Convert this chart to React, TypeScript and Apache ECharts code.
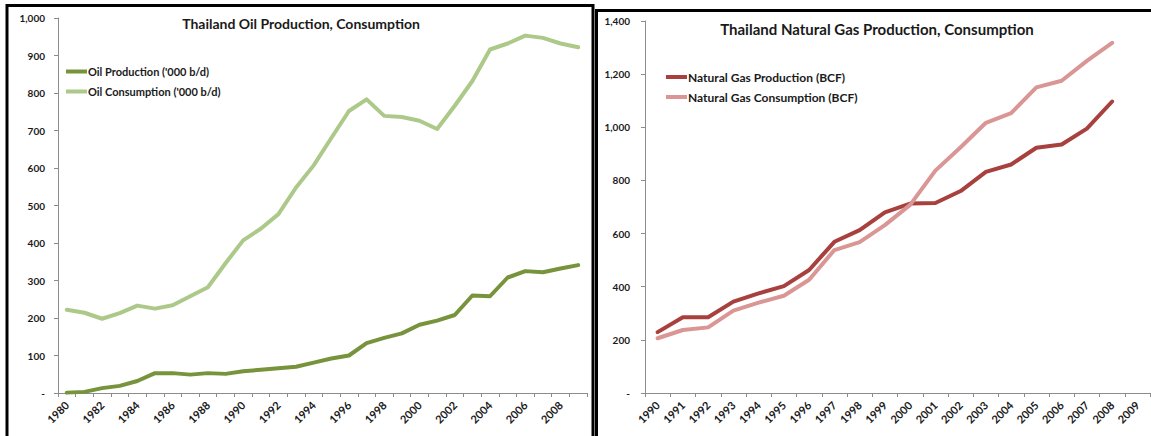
import React, { useEffect, useRef } from "react";
import * as echarts from "echarts";

const oilYears = ["1980","1981","1982","1983","1984","1985","1986","1987","1988","1989","1990","1991","1992","1993","1994","1995","1996","1997","1998","1999","2000","2001","2002","2003","2004","2005","2006","2007","2008","2009"];
const oilProduction = [1,3,13,19,32,53,53,49,53,51,58,62,66,70,81,92,100,133,147,159,182,193,208,260,258,308,325,322,332,341];
const oilConsumption = [222,214,198,213,233,225,234,258,282,346,407,438,477,548,607,680,752,783,739,736,726,704,766,832,916,932,953,947,932,922];

const gasYears = ["1990","1991","1992","1993","1994","1995","1996","1997","1998","1999","2000","2001","2002","2003","2004","2005","2006","2007","2008","2009"];
const gasProduction = [229,285,285,344,375,402,463,569,613,680,713,715,760,832,860,923,935,995,1097,null];
const gasConsumption = [206,237,247,310,340,366,426,538,568,632,708,837,925,1017,1053,1150,1175,1250,1318,null];

const oilTitle = "Thailand Oil Production, Consumption";
const gasTitle = "Thailand Natural Gas Production, Consumption";

const FONT = "Lato, 'Open Sans', sans-serif";

function fmt(v: number) {
  return v === 0 ? "-" : v.toLocaleString("en-US");
}

export default function App() {
  const ref = useRef<HTMLDivElement>(null);
  useEffect(() => {
    if (!ref.current) return;
    const chart = echarts.init(ref.current, null, { renderer: "svg" });
    const axisLine = { show: true, lineStyle: { color: "#8c8c8c", width: 1 } };
    const xLabel = { rotate: 45, fontSize: 11, fontWeight: "bold", color: "#1a1a1a", fontFamily: FONT, margin: 10 };
    const yLabel = { fontSize: 10, fontWeight: "bold", color: "#1a1a1a", fontFamily: FONT, formatter: fmt };
    chart.setOption({
      animation: false,
      backgroundColor: "#ffffff",
      title: [
        { text: oilTitle, left: 301, top: 16, textAlign: "center", padding: 0,
          textStyle: { fontSize: 14, fontWeight: "bold", color: "#1a1a1a", fontFamily: FONT } },
        { text: gasTitle, left: 877, top: 21, textAlign: "center", padding: 0,
          textStyle: { fontSize: 15, fontWeight: "bold", color: "#1a1a1a", fontFamily: FONT } },
      ],
      legend: [
        { orient: "vertical", left: 66, top: 66, itemWidth: 21, itemHeight: 4, itemGap: 9, icon: "rect", padding: 0,
          data: ["Oil Production ('000 b/d)", "Oil Consumption ('000 b/d)"],
          textStyle: { fontSize: 11, fontWeight: "bold", color: "#1a1a1a", fontFamily: FONT, padding: [0, 0, 0, -4] } },
        { orient: "vertical", left: 666, top: 71, itemWidth: 21, itemHeight: 4, itemGap: 8, icon: "rect", padding: 0,
          data: ["Natural Gas Production (BCF)", "Natural Gas Consumption (BCF)"],
          textStyle: { fontSize: 12, fontWeight: "bold", color: "#1a1a1a", fontFamily: FONT, padding: [0, 0, 0, -4] } },
      ],
      grid: [
        { left: 58, top: 18, width: 529, height: 375 },
        { left: 645, top: 21, width: 505, height: 372 },
      ],
      xAxis: [
        { type: "category", gridIndex: 0, data: oilYears, boundaryGap: true, axisLine,
          axisTick: { show: true, interval: 0, length: 4, lineStyle: { color: "#8c8c8c" } },
          axisLabel: { ...xLabel, interval: 1 }, splitLine: { show: false } },
        { type: "category", gridIndex: 1, data: gasYears, boundaryGap: true, axisLine,
          axisTick: { show: true, interval: 0, length: 4, lineStyle: { color: "#8c8c8c" } },
          axisLabel: { ...xLabel, interval: 0 }, splitLine: { show: false } },
      ],
      yAxis: [
        { type: "value", gridIndex: 0, min: 0, max: 1000, interval: 100, axisLine,
          axisTick: { show: true, length: 4, lineStyle: { color: "#8c8c8c" } },
          axisLabel: { ...yLabel, margin: 13 }, splitLine: { show: false } },
        { type: "value", gridIndex: 1, min: 0, max: 1400, interval: 200, axisLine,
          axisTick: { show: true, length: 4, lineStyle: { color: "#8c8c8c" } },
          axisLabel: { ...yLabel, margin: 15 }, splitLine: { show: false } },
      ],
      series: [
        { name: "Oil Production ('000 b/d)", type: "line", xAxisIndex: 0, yAxisIndex: 0, data: oilProduction,
          symbol: "none", color: "#77933c", lineStyle: { width: 4, color: "#77933c", cap: "round", join: "round" } },
        { name: "Oil Consumption ('000 b/d)", type: "line", xAxisIndex: 0, yAxisIndex: 0, data: oilConsumption,
          symbol: "none", color: "#adc98a", lineStyle: { width: 4, color: "#adc98a", cap: "round", join: "round" } },
        { name: "Natural Gas Production (BCF)", type: "line", xAxisIndex: 1, yAxisIndex: 1, data: gasProduction,
          symbol: "none", color: "#a8403e", lineStyle: { width: 4, color: "#a8403e", cap: "round", join: "round" } },
        { name: "Natural Gas Consumption (BCF)", type: "line", xAxisIndex: 1, yAxisIndex: 1, data: gasConsumption,
          symbol: "none", color: "#d99694", lineStyle: { width: 4, color: "#d99694", cap: "round", join: "round" } },
      ],
      graphic: [
        { type: "rect", silent: true, z: 100, shape: { x: 7, y: 5.5, width: 586, height: 500 },
          style: { fill: "none", stroke: "#000", lineWidth: 3 } },
        { type: "rect", silent: true, z: 100, shape: { x: 596.5, y: 10.5, width: 600, height: 500 },
          style: { fill: "none", stroke: "#000", lineWidth: 3 } },
      ],
    });
    return () => chart.dispose();
  }, []);
  return <div ref={ref} style={{ position: "fixed", left: 0, top: 0, width: 1151, height: 436 }} />;
}
